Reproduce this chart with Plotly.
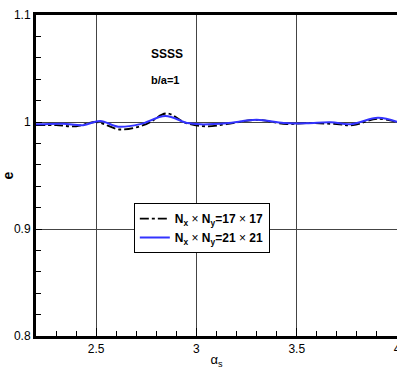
import plotly.graph_objects as go

alpha_17 = [2.2, 2.3, 2.4, 2.5, 2.62, 2.75, 2.85, 2.95, 3.05, 3.15, 3.3, 3.45, 3.55, 3.7, 3.78, 3.9, 4.0]
e_17 = [0.997, 0.997, 0.996, 1.000, 0.993, 0.998, 1.008, 0.999, 0.996, 0.998, 1.002, 0.998, 0.999, 0.998, 0.997, 1.003, 1.000]

alpha_21 = [2.2, 2.335, 2.435, 2.52, 2.61, 2.72, 2.845, 2.955, 3.02, 3.15, 3.30, 3.435, 3.55, 3.67, 3.77, 3.905, 4.0]
e_21 = [0.9978, 0.9984, 0.997, 1.001, 0.9956, 0.998, 1.0056, 0.999, 0.9978, 0.9988, 1.002, 0.999, 0.9988, 0.9997, 0.998, 1.004, 1.0003]

x_ticks = [2.5, 3, 3.5, 4]
y_ticks = [0.8, 0.9, 1.0, 1.1]

fig = go.Figure()
fig.add_trace(go.Scatter(x=alpha_17, y=e_17, mode="lines", line=dict(color="black", width=1.8, dash="dashdot", shape="spline"),
                         name="<b>N<sub>x</sub> <span style='font-weight:normal'>×</span> N<sub>y</sub>=17 <span style='font-weight:normal'>×</span> 17</b>"))
fig.add_trace(go.Scatter(x=alpha_21, y=e_21, mode="lines", line=dict(color="#3333ff", width=2, shape="spline"),
                         name="<b>N<sub>x</sub> <span style='font-weight:normal'>×</span> N<sub>y</sub>=21 <span style='font-weight:normal'>×</span> 21</b>"))

axis_font = dict(family="Liberation Sans, Arial", size=12, color="black")
fig.update_layout(
    width=397, height=369,
    margin=dict(l=36, r=0, t=15, b=33),
    paper_bgcolor="white", plot_bgcolor="white",
    font=axis_font,
    showlegend=True,
    legend=dict(x=0.271, y=0.414, xanchor="left", yanchor="top", bordercolor="black", borderwidth=1,
                bgcolor="white", font=dict(family="Liberation Sans, Arial", size=12, color="black"),
                tracegroupgap=0),
    xaxis=dict(range=[2.2, 4.0], tickvals=x_ticks, ticks="inside", ticklen=8, tickwidth=1, tickcolor="black",
               ticklabeloverflow="allow", automargin=False,
               showgrid=True, gridcolor="#444", gridwidth=1, zeroline=False,
               showline=True, linecolor="black", linewidth=3, mirror=True,
               minor=dict(dtick=0.1, tick0=2.2, ticks="inside", ticklen=5, tickcolor="black", showgrid=False),
               title=dict(text="α<sub>s</sub>", font=dict(size=13), standoff=2)),
    yaxis=dict(range=[0.8, 1.1], tickvals=y_ticks, ticktext=["0.8", "0.9", "1", "1.1"], ticks="inside", ticklen=6,
               tickcolor="black", showgrid=True, gridcolor="#444", gridwidth=1, zeroline=False, automargin=False,
               showline=True, linecolor="black", linewidth=3, mirror=True,
               minor=dict(dtick=0.02, tick0=0.8, ticks="inside", ticklen=5, tickcolor="black", showgrid=False),
               title=dict(text="<b>e</b>", font=dict(size=14), standoff=10)),
    annotations=[
        dict(x=0.312, y=0.907, xref="paper", yref="paper", text="<b>SSSS</b>", showarrow=False,
             font=dict(size=12, color="black")),
        dict(x=0.312, y=0.822, xref="paper", yref="paper", text="<b>b/a=1</b>", showarrow=False,
             font=dict(size=11, color="black")),
    ],
)

fig.write_html("out.html")
